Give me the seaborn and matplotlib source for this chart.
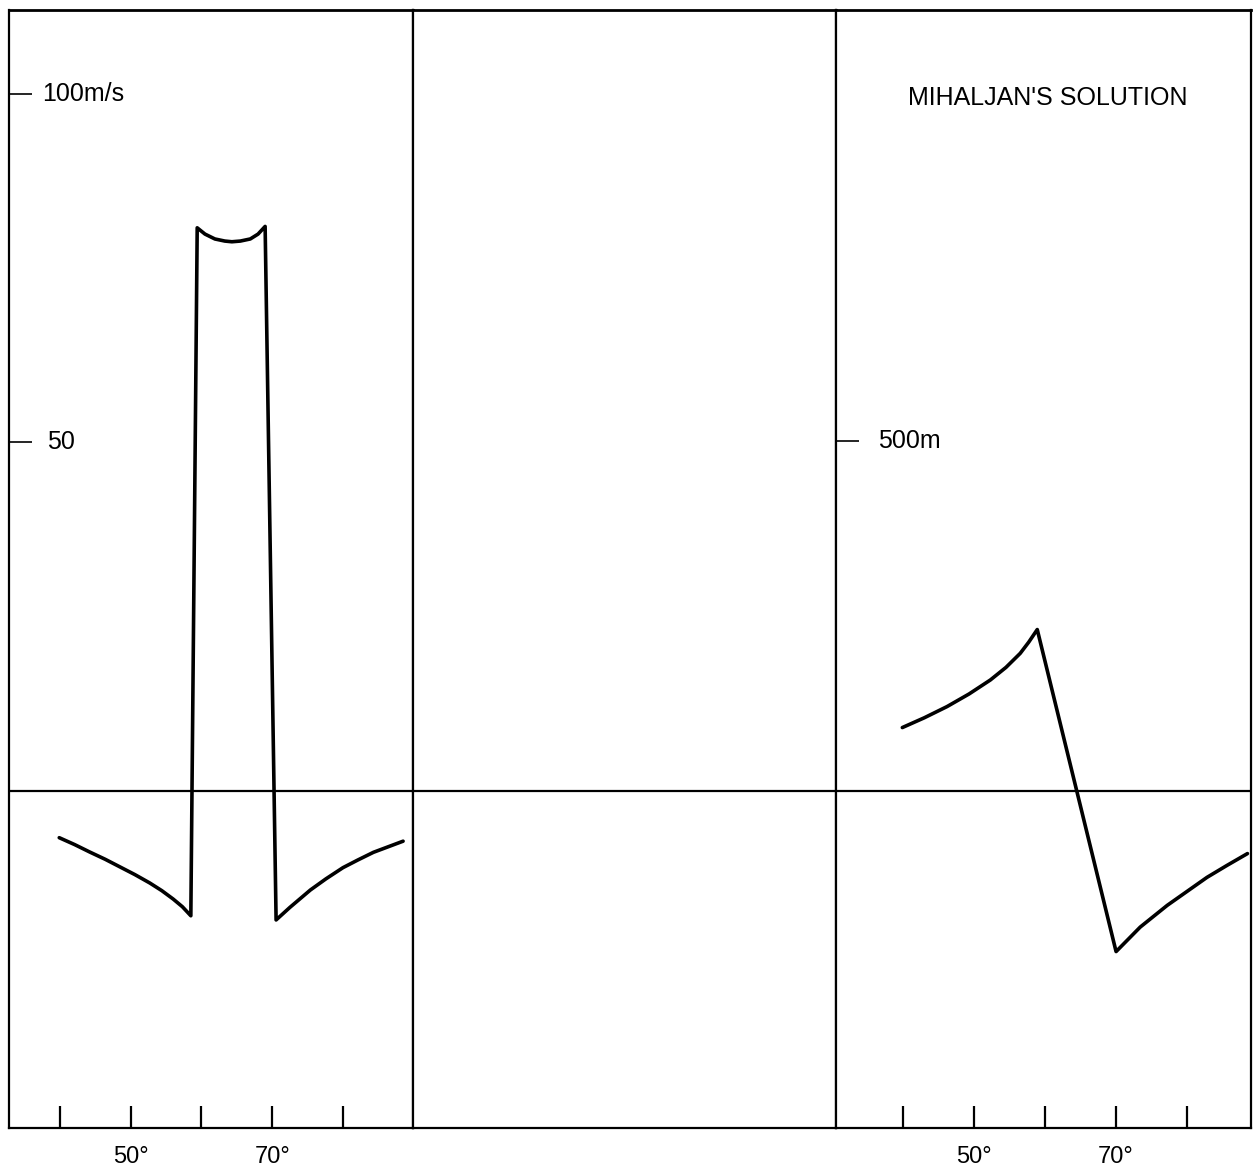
import matplotlib
matplotlib.use("Agg")
import matplotlib.pyplot as plt
import seaborn as sns
import pandas as pd

sns.set_style("white")
plt.rcParams['font.family'] = ['Liberation Sans', 'DejaVu Sans']
plt.rcParams['text.color'] = 'black'
plt.rcParams['xtick.color'] = 'black'
plt.rcParams['ytick.color'] = 'black'

# Left panel: velocity (m/s) vs latitude (deg)
vel_lat = [39.9, 42.1, 44.2, 46.4, 48.5, 50.6, 52.7, 54.4, 56.0, 57.3, 58.5,
           59.4, 60.5, 61.9, 63.3, 64.3, 65.5, 66.9, 68.0, 69.0,
           70.55, 72.5, 75.4, 77.6, 80.0, 82.1, 84.3, 86.4, 88.5]
vel_val = [-6.7, -7.7, -8.75, -9.8, -10.9, -12.0, -13.2, -14.3, -15.5, -16.6, -17.9,
           80.8, 79.9, 79.2, 78.9, 78.8, 78.9, 79.2, 79.9, 81.0,
           -18.5, -16.7, -14.2, -12.6, -11.0, -9.9, -8.8, -8.0, -7.2]

# Right panel: height (m) vs latitude (deg)
hgt_lat = [39.9, 43.0, 46.2, 49.3, 52.3, 54.5, 56.5, 57.7, 58.9,
           70.0, 73.4, 77.2, 80.0, 82.8, 85.6, 88.5]
hgt_val = [91, 105, 121, 139, 159, 177, 197, 213, 231,
           -229, -194, -163, -143, -123, -106, -89]

x_ticks = [40, 50, 60, 70, 80]
x_ticklabels = ["", "50°", "", "70°", ""]
vel_ticks = [50, 100]
vel_ticklabels = ["50", "100m/s"]
hgt_ticks = [500]
hgt_ticklabels = ["500m"]
panel_title = "MIHALJAN'S SOLUTION"

W, H = 1256, 1168
fig = plt.figure(figsize=(W / 100, H / 100), dpi=100)

def frac_box(x0, x1, y0=10, y1=1128):
    return [x0 / W, 1 - y1 / H, (x1 - x0) / W, (y1 - y0) / H]

axL = fig.add_axes(frac_box(9, 413))
axM = fig.add_axes(frac_box(413, 836))
axR = fig.add_axes(frac_box(836, 1251))

lw_curve = 2.6
lw_frame = 1.6

for ax in (axL, axM, axR):
    for s in ax.spines.values():
        s.set_linewidth(lw_frame)
        s.set_color("black")
    ax.spines["top"].set_linewidth(2.0)
    ax.axhline(0, color="black", lw=lw_frame, zorder=1)

dfL = pd.DataFrame({"lat": vel_lat, "v": vel_val})
sns.lineplot(data=dfL, x="lat", y="v", sort=False, estimator=None, color="black",
             lw=lw_curve, ax=axL, solid_joinstyle="round", solid_capstyle="round")
dfR = pd.DataFrame({"lat": hgt_lat, "h": hgt_val})
sns.lineplot(data=dfR, x="lat", y="h", sort=False, estimator=None, color="black",
             lw=lw_curve, ax=axR, solid_joinstyle="round", solid_capstyle="round")

axL.set_xlim(32.8, 89.9)
axL.set_ylim(-48.35, 112.05)
axM.set_xlim(0, 1)
axM.set_ylim(-48.35, 112.05)
axR.set_xlim(30.56, 89.0)
axR.set_ylim(-481, 1116)

for ax in (axL, axM, axR):
    ax.set_xlabel("")
    ax.set_ylabel("")

# x ticks
for ax in (axL, axR):
    ax.set_xticks(x_ticks)
    ax.set_xticklabels(x_ticklabels, fontsize=17)
    ax.tick_params(axis="x", direction="in", length=16, width=1.6, pad=13, bottom=True, color="black")
axM.set_xticks([])
axM.set_yticks([])

# y ticks (inward, labels inside the panel)
def ytick_setup(ax, ticks, labels, xpos):
    ax.set_yticks(ticks)
    ax.set_yticklabels([])
    ax.tick_params(axis="y", direction="in", length=16.5, width=1.2, left=True, color="black")
    for t, lab, xp in zip(ticks, labels, xpos):
        ax.text(xp, t, lab, transform=ax.get_yaxis_transform(), ha="left", va="center", fontsize=18)

ytick_setup(axL, vel_ticks, vel_ticklabels, [38 / 404, 33 / 404])
ytick_setup(axR, hgt_ticks, hgt_ticklabels, [42 / 415])

axR.text(0.51, 0.921, panel_title, transform=axR.transAxes, ha="center", va="center", fontsize=18)

fig.savefig("out.png", dpi=100)
